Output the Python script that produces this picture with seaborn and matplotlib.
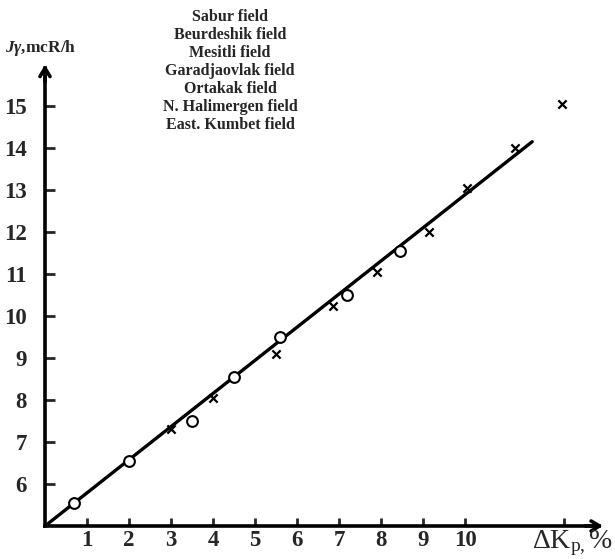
"""Gamma intensity vs. delta K_p for several gas fields (scanned-figure recreation)."""

import matplotlib

matplotlib.use("Agg")
import matplotlib.pyplot as plt
import pandas as pd
import seaborn as sns

# data
circle_x = [0.7, 2.0, 3.5, 4.5, 5.6, 7.2, 8.45]
circle_y = [5.55, 6.55, 7.5, 8.55, 9.5, 10.5, 11.55]
cross_x = [3.0, 4.0, 5.5, 6.85, 7.9, 9.15, 10.05, 11.2, 12.3]
cross_y = [7.3, 8.05, 9.1, 10.25, 11.05, 12.0, 13.05, 14.0, 15.05]
line_x = [0.0, 11.6]
line_y = [5.0, 14.15]

x_ticks = [1, 2, 3, 4, 5, 6, 7, 8, 9, 10]
y_ticks = [6, 7, 8, 9, 10, 11, 12, 13, 14, 15]
fields = [
    "Sabur field",
    "Beurdeshik field",
    "Mesitli field",
    "Garadjaovlak field",
    "Ortakak field",
    "N. Halimergen field",
    "East. Kumbet field",
]

W, H = 615, 559
X0_PX, Y0_PX, UNIT_PX = 45, 526, 42
X_MIN, X_MAX = 0.0, 13.5
Y_MIN, Y_MAX = 5.0, 16.5

sns.set_theme(style="white")
plt.rcParams["font.family"] = ["Liberation Serif", "DejaVu Serif"]
plt.rcParams["mathtext.fontset"] = "custom"
plt.rcParams["mathtext.rm"] = "Liberation Serif:bold"
plt.rcParams["mathtext.it"] = "Liberation Serif:italic:bold"
plt.rcParams["mathtext.bf"] = "Liberation Serif:bold"

fig = plt.figure(figsize=(W / 100, H / 100), dpi=100)
ax = fig.add_axes(
    [
        X0_PX / W,
        (H - Y0_PX) / H,
        (X_MAX - X_MIN) * UNIT_PX / W,
        (Y_MAX - Y_MIN) * UNIT_PX / H,
    ]
)

points = pd.concat(
    [
        pd.DataFrame({"x": circle_x, "y": circle_y, "kind": "circle"}),
        pd.DataFrame({"x": cross_x, "y": cross_y, "kind": "cross"}),
    ],
    ignore_index=True,
)

sns.lineplot(x=line_x, y=line_y, color="black", linewidth=2.4, ax=ax, zorder=2)
sns.scatterplot(
    data=points[points["kind"] == "circle"], x="x", y="y", marker="o",
    s=60, facecolor="white", edgecolor="black", linewidth=1.5, ax=ax, zorder=3,
)
sns.scatterplot(
    data=points[points["kind"] == "cross"], x="x", y="y", marker="x",
    s=35, color="black", linewidth=1.6, ax=ax, zorder=3,
)

ax.set_xlim(X_MIN, X_MAX)
ax.set_ylim(Y_MIN, Y_MAX)
ax.set_xlabel("")
ax.set_ylabel("")
ax.set_xticks(x_ticks + [12.35])
ax.set_xticklabels([str(t) for t in x_ticks] + [""])
ax.set_yticks(y_ticks)
ax.set_yticklabels([str(t) for t in y_ticks])
for lab in ax.get_xticklabels() + ax.get_yticklabels():
    lab.set_fontweight("bold")
ax.tick_params(axis="x", direction="in", length=6, width=2, labelsize=16.5, pad=3, bottom=True)
ax.tick_params(axis="y", direction="in", length=7, width=2, labelsize=16.5, pad=13, left=True)

for side in ["top", "right"]:
    ax.spines[side].set_visible(False)
ax.spines["left"].set_linewidth(2.6)
ax.spines["bottom"].set_linewidth(2.6)
ax.spines["left"].set_bounds(Y_MIN, 15.9)
ax.spines["bottom"].set_bounds(X_MIN, 13.2)
ax.spines["left"].set_color("black")
ax.spines["bottom"].set_color("black")

arrow = dict(arrowstyle="->,head_length=0.5,head_width=0.3", color="black", lw=2.6)
ax.annotate("", xy=(0, 16.05), xytext=(0, 15.5), arrowprops=arrow, annotation_clip=False)
ax.annotate("", xy=(13.35, Y_MIN), xytext=(12.8, Y_MIN), arrowprops=arrow, annotation_clip=False)

fig.text(230 / W, 1 - 9 / H, "\n".join(fields), ha="center", va="top",
         fontsize=11.5, fontweight="bold", linespacing=1.17)
fig.text(5 / W, 1 - 48 / H, r"$J\gamma$,mcR/h", ha="left", va="center",
         fontsize=12.5, fontweight="bold")
fig.text(532 / W, 1 - 543 / H, r"ΔK$_{\mathregular{p,}}$%", ha="left", va="center",
         fontsize=20, fontweight="normal")

fig.savefig("out.png", dpi=100, facecolor="white")
